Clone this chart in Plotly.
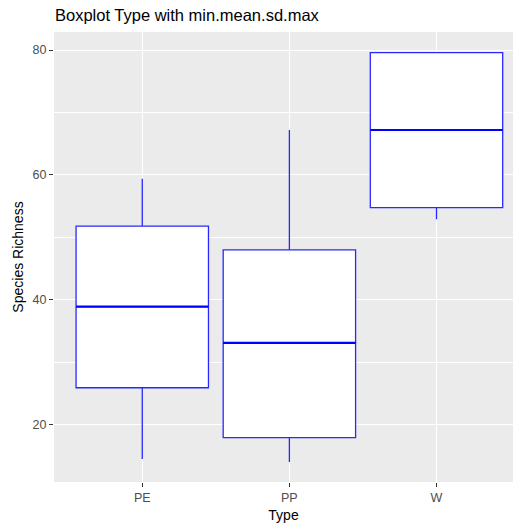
import plotly.graph_objects as go

# Data: min, mean-sd, mean, mean+sd, max per Type
categories = ["PE", "PP", "W"]
y_min = [14.5, 14.0, 52.9]
y_lower = [25.9, 17.9, 54.75]
y_mean = [38.9, 33.1, 67.2]
y_upper = [51.8, 48.0, 79.6]
y_max = [59.4, 67.2, 79.6]

pos = list(range(len(categories)))
box_w = 0.9

fig = go.Figure()
fig.add_trace(go.Box(
    x=pos, q1=y_lower, median=y_mean, q3=y_upper,
    lowerfence=y_min, upperfence=[max(a, b) for a, b in zip(y_max, y_upper)],
    width=box_w, whiskerwidth=0, boxpoints=False,
    fillcolor="white", line=dict(color="rgb(40,40,255)", width=1.3),
    showlegend=False, hoverinfo="skip",
))

mx, my = [], []
for p, m in zip(pos, y_mean):
    mx += [p - box_w / 2, p + box_w / 2, None]
    my += [m, m, None]
fig.add_trace(go.Scatter(x=mx, y=my, mode="lines",
                         line=dict(color="rgb(0,0,255)", width=2.2),
                         showlegend=False, hoverinfo="skip"))

font_family = "Liberation Sans, Arial, sans-serif"
fig.update_layout(
    width=515, height=526,
    margin=dict(l=54, r=2, t=32, b=44),
    paper_bgcolor="white", plot_bgcolor="#EBEBEB",
    font=dict(family=font_family, color="#4D4D4D", size=12),
    title=dict(text="Boxplot Type with min.mean.sd.max", x=55/515, xref="container",
               xanchor="left", y=1 - 15/526, yref="container", yanchor="middle",
               font=dict(size=16.5, color="black", family=font_family)),
    xaxis=dict(range=[-0.6, 2.52], tickmode="array", tickvals=pos, ticktext=categories,
               showgrid=True, gridcolor="white", gridwidth=1.1, zeroline=False,
               ticks="outside", ticklen=4, tickwidth=1, tickcolor="#333333",
               tickfont=dict(size=12.5, color="#4D4D4D"),
               title=dict(text="Type", font=dict(size=14, color="black"), standoff=6),
               automargin=False, showline=False),
    yaxis=dict(range=[10.8, 82.9], tickmode="linear", tick0=0, dtick=20,
               showgrid=True, gridcolor="white", gridwidth=1.1, zeroline=False,
               minor=dict(tick0=0, dtick=10, showgrid=True, gridcolor="white", gridwidth=0.5),
               ticks="outside", ticklen=4, tickwidth=1, tickcolor="#333333",
               tickfont=dict(size=12.5, color="#4D4D4D"),
               title=dict(text="Species Richness", font=dict(size=14, color="black"), standoff=5),
               automargin=False, showline=False),
)

fig.write_html("out.html")
